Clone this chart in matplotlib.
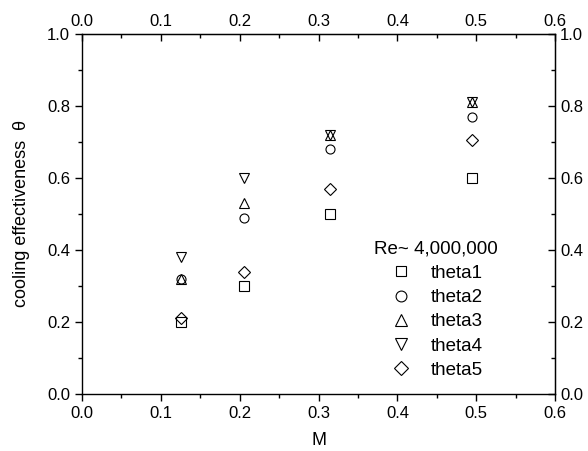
import matplotlib.pyplot as plt
from matplotlib.ticker import MultipleLocator

plt.rcParams['font.family'] = ['Liberation Sans', 'DejaVu Sans']

# blowing ratio M and cooling effectiveness for each theta
m_values = [0.125, 0.205, 0.315, 0.495]
theta1 = [0.20, 0.30, 0.50, 0.60]
theta2 = [0.32, 0.49, 0.68, 0.77]
theta3 = [0.32, 0.53, 0.72, 0.81]
theta4 = [0.38, 0.60, 0.72, 0.81]
theta5 = [0.21, 0.34, 0.57, 0.705]

series_names = ['theta1', 'theta2', 'theta3', 'theta4', 'theta5']
series_markers = ['s', 'o', '^', 'v', 'D']
series_sizes = [6.5, 6.5, 7, 7, 6.2]
series_data = [theta1, theta2, theta3, theta4, theta5]

fig = plt.figure(figsize=(5.88, 4.51), dpi=100)
ax = fig.add_axes([0.1395, 0.1264, 0.8045, 0.7982])

for name, mk, ms, vals in zip(series_names, series_markers, series_sizes, series_data):
    ax.plot(m_values, vals, linestyle='none', marker=mk, markersize=ms,
            markerfacecolor='none', markeredgecolor='black',
            markeredgewidth=0.8, label=name)

ax.set_xlim(0, 0.6)
ax.set_ylim(0, 1.0)
ax.xaxis.set_major_locator(MultipleLocator(0.1))
ax.xaxis.set_minor_locator(MultipleLocator(0.05))
ax.yaxis.set_major_locator(MultipleLocator(0.2))
ax.yaxis.set_minor_locator(MultipleLocator(0.1))
ax.xaxis.set_major_formatter(lambda v, p: f'{v:.1f}')
ax.yaxis.set_major_formatter(lambda v, p: f'{v:.1f}')
ax.tick_params(which='major', direction='out', length=5, width=1, labelsize=12, colors='black')
ax.tick_params(which='minor', direction='out', length=3, width=1)

for s in ax.spines.values():
    s.set_linewidth(1)

# top and right axes repeat the scales with inward ticks
top = ax.secondary_xaxis('top')
top.xaxis.set_major_locator(MultipleLocator(0.1))
top.xaxis.set_minor_locator(MultipleLocator(0.05))
top.xaxis.set_major_formatter(lambda v, p: f'{v:.1f}')
top.tick_params(which='major', direction='in', length=5, width=1, labelsize=12)
top.tick_params(which='minor', direction='in', length=3, width=1)

right = ax.secondary_yaxis('right')
right.yaxis.set_major_locator(MultipleLocator(0.2))
right.yaxis.set_minor_locator(MultipleLocator(0.1))
right.yaxis.set_major_formatter(lambda v, p: f'{v:.1f}')
right.tick_params(which='major', direction='in', length=5, width=1, labelsize=12)
right.tick_params(which='minor', direction='in', length=3, width=1)

ax.set_xlabel('M', fontsize=13, labelpad=8)
ax.set_ylabel('cooling effectiveness  θ', fontsize=13, labelpad=12)

leg = ax.legend(title='Re~ 4,000,000', frameon=False, fontsize=13.5,
                title_fontsize=13.5, loc='lower right',
                bbox_to_anchor=(0.915, -0.005), markerscale=1.2,
                handlelength=1.2, handletextpad=1.0, labelspacing=0.38)

fig.savefig('out.png', dpi=100)
